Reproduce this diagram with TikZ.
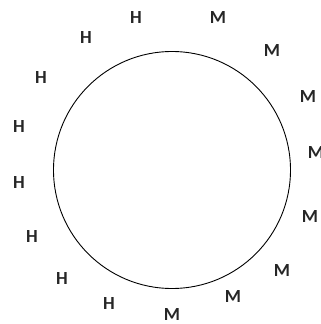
\documentclass[tikz,border=0pt]{standalone}
\usepackage{fontspec}
\setmainfont{Carlito}
\begin{document}
\begin{tikzpicture}[x=1pt,y=-1pt,
  lbl/.style={inner sep=0pt, font=\fontsize{18.5}{18.5}\selectfont\bfseries, text=black!85}]
\useasboundingbox (0,0) rectangle (321,324);
\node[draw, circle, minimum size=237pt, inner sep=0pt, line width=0.9pt] (c) at (172,170) {};
\node[lbl] (h1) at (136,18) {H};
\node[lbl] (h2) at (86,38) {H};
\node[lbl] (h3) at (41,78) {H};
\node[lbl] (h4) at (19,127) {H};
\node[lbl] (h5) at (19,182) {H};
\node[lbl] (h6) at (32,236) {H};
\node[lbl] (h7) at (62,278) {H};
\node[lbl] (h8) at (109,303) {H};
\node[lbl] (m1) at (218,18) {M};
\node[lbl] (m2) at (272,51) {M};
\node[lbl] (m3) at (308,97) {M};
\node[lbl] (m4) at (316,152) {M};
\node[lbl] (m5) at (310,216) {M};
\node[lbl] (m6) at (282,270) {M};
\node[lbl] (m7) at (233,296) {M};
\node[lbl] (m8) at (172,314) {M};
\end{tikzpicture}
\end{document}
